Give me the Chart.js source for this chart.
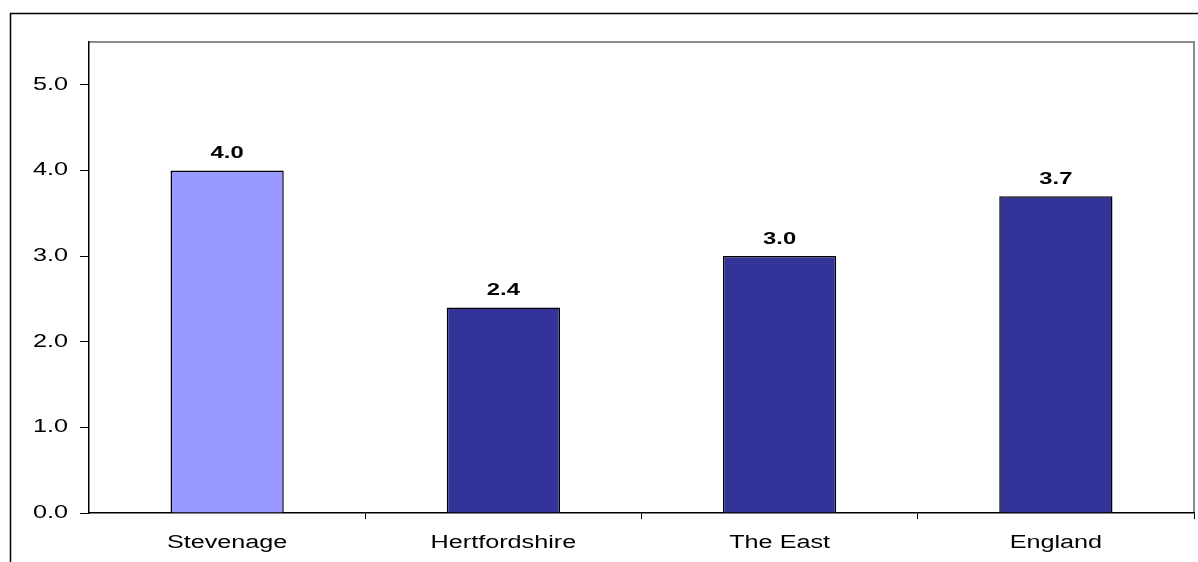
<!DOCTYPE html>
<html lang="en">
  <head>
    <meta charset="UTF-8" />
    <title>Rate by area</title>
    <script src="https://cdn.jsdelivr.net/npm/chart.js"></script>
    <style>
      html, body { margin: 0; padding: 0; background: #fff; }
      #wrap { width: 1198px; height: 562px; position: relative; }
    </style>
  </head>
  <body>
    <div id="wrap"><canvas id="chart"></canvas></div>
    <script>
      const areas = ['Stevenage', 'Hertfordshire', 'The East', 'England'];
      const rates = [4.0, 2.4, 3.0, 3.7];
      const barColours = ['#9999FF', '#333399', '#333399', '#333399'];
      const yMin = 0, yMax = 5.5, yStep = 1;

      const fontFamily = '"Liberation Sans", Arial, sans-serif';
      const stretch = 1.4; // text is drawn wide

      function wideText(c, text, x, y, align) {
        c.save();
        c.translate(x, y);
        c.scale(stretch, 1);
        c.textAlign = align;
        c.fillText(text, 0, 0);
        c.restore();
      }

      // outer frame + grey plot border
      const framePlugin = {
        id: 'frame',
        beforeDraw(chart) {
          const c = chart.ctx;
          const a = chart.chartArea;
          c.save();
          c.fillStyle = '#fff';
          c.fillRect(0, 0, chart.width, chart.height);
          c.strokeStyle = '#000';
          c.lineWidth = 1.5;
          c.strokeRect(10.5, 13.5, chart.width + 50, chart.height + 50);
          c.strokeStyle = '#8c8c8c';
          c.lineWidth = 2;
          c.beginPath();
          c.moveTo(a.left, a.top);
          c.lineTo(a.right, a.top);
          c.lineTo(a.right, a.bottom);
          c.stroke();
          c.restore();
        }
      };

      // axis labels and value labels, drawn wide
      const textPlugin = {
        id: 'wideLabels',
        afterDatasetsDraw(chart) {
          const c = chart.ctx;
          const xs = chart.scales.x, ys = chart.scales.y;
          const meta = chart.getDatasetMeta(0);
          c.save();
          c.fillStyle = '#000';
          c.textBaseline = 'middle';
          c.font = '18px ' + fontFamily;
          ys.ticks.forEach(t => {
            wideText(c, t.value.toFixed(1), 68, ys.getPixelForValue(t.value), 'right');
          });
          c.textBaseline = 'alphabetic';
          areas.forEach((name, i) => {
            wideText(c, name, xs.getPixelForValue(i), 548, 'center');
          });
          c.font = 'bold 17px ' + fontFamily;
          meta.data.forEach((bar, i) => {
            wideText(c, rates[i].toFixed(1), bar.x, bar.y - 12, 'center');
          });
          c.restore();
        }
      };

      new Chart(document.getElementById('chart'), {
        type: 'bar',
        data: {
          labels: areas,
          datasets: [{
            data: rates,
            backgroundColor: barColours,
            borderColor: '#000',
            borderWidth: 1.5,
            barPercentage: 0.41,
            categoryPercentage: 1
          }]
        },
        options: {
          responsive: true,
          maintainAspectRatio: false,
          animation: false,
          layout: { padding: { left: 0, right: 4, top: 42, bottom: 0 } },
          plugins: { legend: { display: false }, tooltip: { enabled: false } },
          scales: {
            x: {
              offset: true,
              grid: {
                offset: true,
                drawOnChartArea: false,
                color: ctx => ctx.index === 0 ? 'rgba(0,0,0,0)' : '#000',
                tickLength: 6
              },
              border: { color: '#000', width: 1.5 },
              ticks: { color: 'rgba(0,0,0,0)', font: { family: fontFamily, size: 16 } },
              afterFit(scale) { scale.height = 49; }
            },
            y: {
              min: yMin,
              max: yMax,
              grid: {
                drawOnChartArea: false,
                color: '#000',
                tickLength: 9
              },
              border: { color: '#000', width: 1.5 },
              ticks: {
                stepSize: yStep,
                color: 'rgba(0,0,0,0)',
                font: { family: fontFamily, size: 16 }
              },
              afterBuildTicks(scale) {
                scale.ticks = scale.ticks.filter(t => Number.isInteger(t.value));
              },
              afterFit(scale) { scale.width = 89; }
            }
          }
        },
        plugins: [framePlugin, textPlugin]
      });
    </script>
  </body>
</html>
